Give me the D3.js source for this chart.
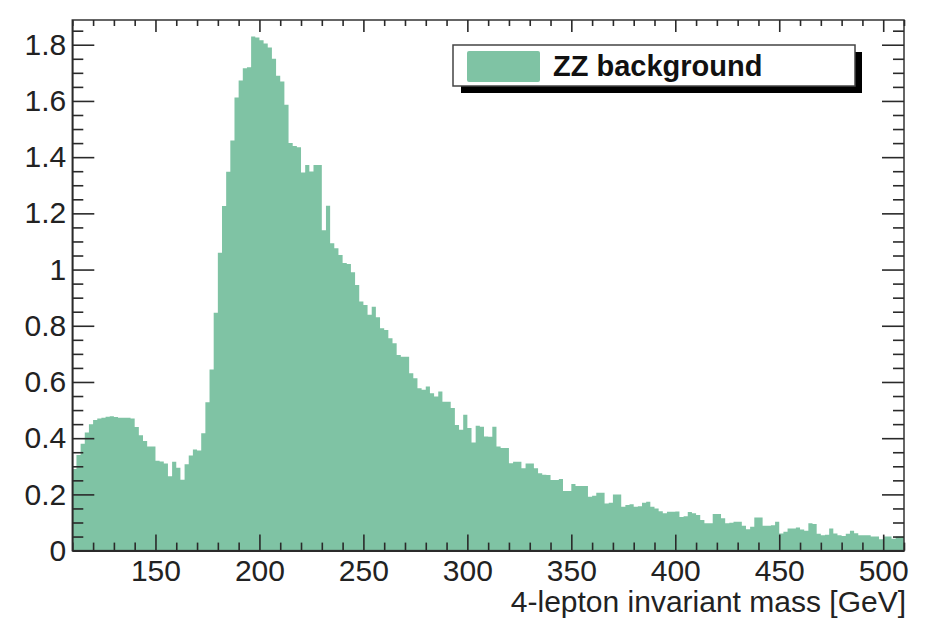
<!DOCTYPE html>
<html>
<head>
<meta charset="utf-8">
<script src="https://cdn.jsdelivr.net/npm/d3@7"></script>
<style>
  html, body { margin: 0; padding: 0; background: #fff; }
  svg { display: block; font-family: "Liberation Sans", Arial, Helvetica, sans-serif; }
</style>
</head>
<body>
<svg id="chart" width="948" height="620"></svg>
<script>
// ---- data ----
const binStart = 110;      // GeV
const binWidth = 2;        // GeV
const xRange = [110, 510];
const yRange = [0, 1.888];
const xTickValues = [150, 200, 250, 300, 350, 400, 450, 500];
const yTickValues = [0, 0.2, 0.4, 0.6, 0.8, 1, 1.2, 1.4, 1.6, 1.8];
const yTickLabels = ["0", "0.2", "0.4", "0.6", "0.8", "1", "1.2", "1.4", "1.6", "1.8"];
const xTitle = "4-lepton invariant mass [GeV]";
const legendLabel = "ZZ background";

// bin contents, 2 GeV bins from 110 to 510 GeV
const zzValues = [
  0.29, 0.34, 0.38, 0.42, 0.45, 0.465, 0.47, 0.473, 0.476, 0.478,
  0.475, 0.473, 0.473, 0.473, 0.47, 0.44, 0.41, 0.39, 0.37, 0.37,
  0.32, 0.317, 0.31, 0.265, 0.316, 0.295, 0.252, 0.307, 0.338, 0.36,
  0.356, 0.418, 0.528, 0.644, 0.846, 1.06, 1.226, 1.348, 1.459, 1.612,
  1.673, 1.716, 1.72, 1.829, 1.826, 1.816, 1.804, 1.79, 1.75, 1.69,
  1.669, 1.586, 1.45, 1.44, 1.435, 1.345, 1.372, 1.349, 1.372, 1.372,
  1.14, 1.227, 1.094, 1.076, 1.052, 1.023, 1.02, 0.99, 0.945, 0.886,
  0.874, 0.839, 0.868, 0.83, 0.791, 0.785, 0.756, 0.738, 0.696, 0.69,
  0.69, 0.631, 0.613, 0.578, 0.572, 0.584, 0.56, 0.548, 0.566, 0.53,
  0.53, 0.507, 0.447, 0.43, 0.483, 0.436, 0.385, 0.444, 0.441, 0.406,
  0.405, 0.441, 0.37, 0.365, 0.365, 0.311, 0.316, 0.316, 0.293, 0.31,
  0.31, 0.293, 0.275, 0.27, 0.269, 0.251, 0.251, 0.255, 0.212, 0.212,
  0.237, 0.23, 0.23, 0.23, 0.192, 0.195, 0.206, 0.206, 0.168, 0.17,
  0.2, 0.2, 0.156, 0.162, 0.165, 0.156, 0.158, 0.17, 0.174, 0.156,
  0.15, 0.14, 0.133, 0.138, 0.138, 0.139, 0.12, 0.122, 0.137, 0.133,
  0.127, 0.109, 0.097, 0.097, 0.13, 0.13, 0.115, 0.097, 0.099, 0.103,
  0.103, 0.088, 0.076, 0.085, 0.118, 0.118, 0.088, 0.088, 0.09, 0.103,
  0.061, 0.067, 0.079, 0.079, 0.082, 0.075, 0.071, 0.097, 0.095, 0.06,
  0.055, 0.056, 0.079, 0.061, 0.055, 0.052, 0.06, 0.071, 0.062, 0.055,
  0.055, 0.055, 0.05, 0.05, 0.04, 0.05, 0.05, 0.042, 0.05, 0.05
];

// ---- layout ----
const fillColor = "#7fc3a4";
const L = 72.3, R = 904, T = 20, B = 550.6;
const fontSize = 30;

const svg = d3.select("#chart");
const x = d3.scaleLinear().domain(xRange).range([L, R]);
const y = d3.scaleLinear().domain(yRange).range([B, T]);

// histogram as step area
const pts = zzValues.map((v, i) => ({ e: binStart + i * binWidth, v }));
pts.push({ e: binStart + zzValues.length * binWidth, v: zzValues[zzValues.length - 1] });
const area = d3.area()
  .x(d => x(d.e))
  .y0(y(0))
  .y1(d => y(d.v))
  .curve(d3.curveStepAfter);
svg.append("path").datum(pts).attr("d", area).attr("fill", fillColor);

// frame
svg.append("rect").attr("x", L).attr("y", T).attr("width", R - L).attr("height", B - T)
  .attr("fill", "none").attr("stroke", "#333").attr("stroke-width", 1.5);

const tickColor = "#2a2a2a";
const xMinor = d3.range(110, 511, 10).filter(v => v % 50 !== 0);
const yMinor = d3.range(0, 1.87, 0.05).filter(v => Math.abs(v / 0.2 - Math.round(v / 0.2)) > 1e-6);

function styleTicks(g) {
  g.selectAll(".tick line").attr("stroke", tickColor).attr("stroke-width", 1.6);
}

// bottom axis (ticks inward)
const gB = svg.append("g").attr("transform", `translate(0,${B})`)
  .call(d3.axisBottom(x).tickValues(xTickValues).tickSizeInner(-16).tickSizeOuter(0)
    .tickFormat(d3.format("d")).tickPadding(9));
gB.select(".domain").attr("stroke", tickColor).attr("stroke-width", 1.6);
styleTicks(gB);
gB.selectAll(".tick text").attr("font-size", fontSize).attr("fill", "#222")
  .attr("font-family", "'Liberation Sans', Arial, sans-serif");
const gBm = svg.append("g").attr("transform", `translate(0,${B})`)
  .call(d3.axisBottom(x).tickValues(xMinor).tickSizeInner(-8).tickSizeOuter(0).tickFormat(""));
gBm.select(".domain").remove();
styleTicks(gBm);

// top axis ticks
const gT = svg.append("g").attr("transform", `translate(0,${T})`)
  .call(d3.axisTop(x).tickValues(xTickValues).tickSizeInner(-12).tickSizeOuter(0).tickFormat(""));
gT.select(".domain").remove();
styleTicks(gT);
const gTm = svg.append("g").attr("transform", `translate(0,${T})`)
  .call(d3.axisTop(x).tickValues(xMinor).tickSizeInner(-6).tickSizeOuter(0).tickFormat(""));
gTm.select(".domain").remove();
styleTicks(gTm);

// left axis
const gL = svg.append("g").attr("transform", `translate(${L},0)`)
  .call(d3.axisLeft(y).tickValues(yTickValues).tickSizeInner(-22).tickSizeOuter(0)
    .tickFormat((d, i) => yTickLabels[i]).tickPadding(6));
gL.select(".domain").attr("stroke", tickColor).attr("stroke-width", 1.6);
styleTicks(gL);
gL.selectAll(".tick text").attr("font-size", fontSize).attr("fill", "#222")
  .attr("font-family", "'Liberation Sans', Arial, sans-serif");
const gLm = svg.append("g").attr("transform", `translate(${L},0)`)
  .call(d3.axisLeft(y).tickValues(yMinor).tickSizeInner(-11).tickSizeOuter(0).tickFormat(""));
gLm.select(".domain").remove();
styleTicks(gLm);

// right axis ticks
const gR = svg.append("g").attr("transform", `translate(${R},0)`)
  .call(d3.axisRight(y).tickValues(yTickValues).tickSizeInner(-22).tickSizeOuter(0).tickFormat(""));
gR.select(".domain").remove();
styleTicks(gR);
const gRm = svg.append("g").attr("transform", `translate(${R},0)`)
  .call(d3.axisRight(y).tickValues(yMinor).tickSizeInner(-11).tickSizeOuter(0).tickFormat(""));
gRm.select(".domain").remove();
styleTicks(gRm);

// x title
svg.append("text").attr("x", 906).attr("y", 612).attr("text-anchor", "end")
  .attr("font-size", fontSize).attr("fill", "#222").text(xTitle);

// legend
const lg = svg.append("g");
lg.append("rect").attr("x", 461).attr("y", 52).attr("width", 401).attr("height", 41).attr("fill", "#000");
lg.append("rect").attr("x", 453).attr("y", 45).attr("width", 402).attr("height", 41)
  .attr("fill", "#fff").attr("stroke", "#444").attr("stroke-width", 1.5);
lg.append("rect").attr("x", 467).attr("y", 51).attr("width", 73).attr("height", 31).attr("rx", 2)
  .attr("fill", fillColor);
lg.append("text").attr("x", 553).attr("y", 76).attr("font-size", 29).attr("font-weight", "bold")
  .attr("fill", "#111").text(legendLabel);
</script>
</body>
</html>
